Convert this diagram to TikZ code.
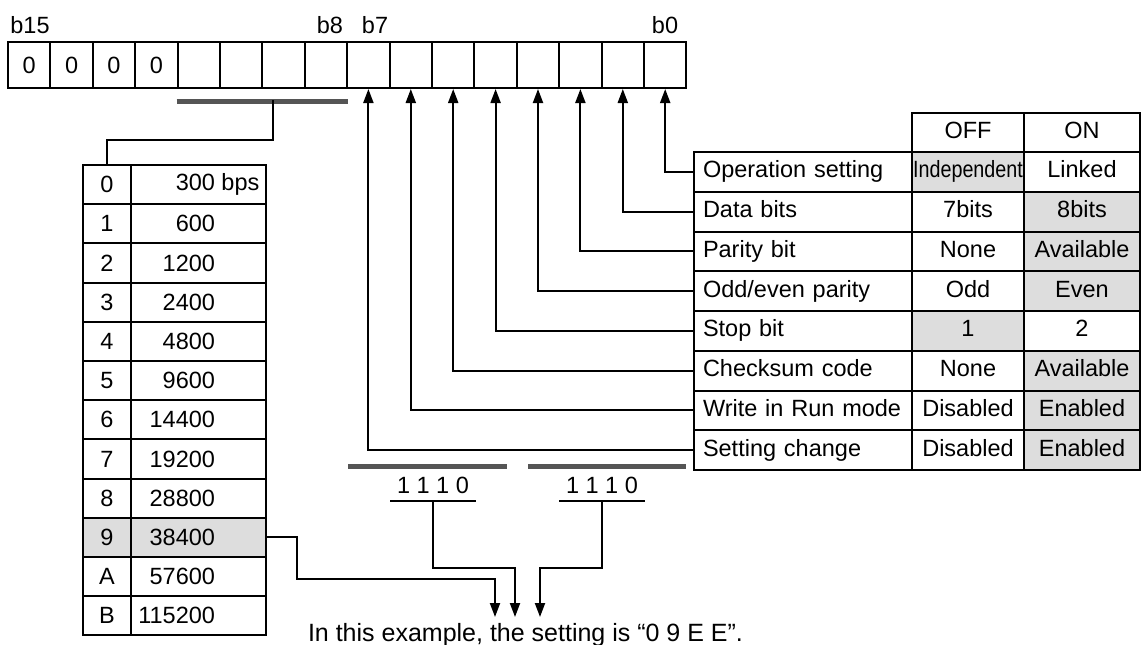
\documentclass[tikz,border=0pt]{standalone}
\usepackage{fontspec}
\usepackage{graphicx}
\setmainfont{Liberation Sans}
\usetikzlibrary{arrows.meta,positioning}
\definecolor{cellgray}{HTML}{DDDDDD}
\definecolor{bargray}{HTML}{555555}
\newcommand{\rate}[1]{\makebox[135pt][l]{\makebox[84pt][r]{#1}}}
\newcommand{\narrow}[1]{\scalebox{0.84}[1]{#1}}

\begin{document}
\begin{tikzpicture}[x=1pt,y=-1pt,line width=2pt,
    >={Triangle[length=14pt,width=10pt]},
    every node/.style={font=\fontsize{23.5}{28}\selectfont,inner sep=0pt},
    cell/.style={draw,minimum height=46pt,minimum width=42.4pt},
    code/.style={draw,minimum height=39.2pt,minimum width=48pt},
    speed/.style={draw,minimum height=39.2pt,minimum width=135pt},
    item/.style={draw,minimum height=39.75pt,text width=200pt,inner xsep=9pt,
      align=left,text height=17pt,text depth=5pt},
    offcell/.style={draw,minimum height=39.75pt,minimum width=112pt,
      text height=17pt,text depth=5pt},
    oncell/.style={draw,minimum height=39.75pt,minimum width=116pt,
      text height=17pt,text depth=5pt},
    nib/.style={minimum height=30pt,inner xsep=6pt},
    bar/.style={draw=bargray,line width=5pt}]
  \useasboundingbox (0,0) rectangle (1141,645);

  \foreach \b in {15,14,13,12}
    \node[cell] (bit-\b) at ({29.2+42.4*(15-\b)},65) {0};
  \foreach \b in {11,...,0}
    \node[cell] (bit-\b) at ({29.2+42.4*(15-\b)},65) {};
  \node (lbl-15) at (30,25)  {b15};
  \node (lbl-8)  at (330,25) {b8};
  \node (lbl-7)  at (375,25) {b7};
  \node (lbl-0)  at (665,25) {b0};

  \draw[bar] ([yshift=-12pt]bit-11.south west) -- ([yshift=-12pt]bit-8.south east);
  \coordinate (tap-hi) at (273,100);

  \foreach \j/\c/\r/\f in {0/0/{300\rlap{\ bps}}/none,1/1/600/none,2/2/1200/none,
      3/3/2400/none,4/4/4800/none,5/5/9600/none,6/6/14400/none,7/7/19200/none,
      8/8/28800/none,9/9/38400/cellgray,10/A/57600/none,11/B/115200/none}{
    \node[code,fill=\f]  (code-\j) at (107,184.6+39.2*\j) {\c};
    \node[speed,fill=\f] (speed-\j) at (198.5,184.6+39.2*\j) {\rate{\r}};
  }
  \draw (tap-hi) -- ++(0,40) -| (code-0.north);

  \node[offcell] (head-off) at (968,132.5) {OFF};
  \node[oncell]  (head-on)  at (1082,132.5) {ON};
  \foreach \i/\t/\o/\n/\fo/\fn in {
      1/Operation setting/{\narrow{Independent}}/Linked/cellgray/none,
      2/Data bits/7bits/8bits/none/cellgray,
      3/Parity bit/None/Available/none/cellgray,
      4/Odd\slash even parity/Odd/Even/none/cellgray,
      5/Stop bit/1/2/cellgray/none,
      6/Checksum code/None/Available/none/cellgray,
      7/Write in Run mode/Disabled/Enabled/none/cellgray,
      8/Setting change/Disabled/Enabled/none/cellgray}{
    \node[item] (row-\i) at (803,132.125+39.75*\i) {\t};
    \node[offcell,fill=\fo] (off-\i) at (968,132.125+39.75*\i) {\o};
    \node[oncell,fill=\fn]  (on-\i)  at (1082,132.125+39.75*\i) {\n};
  }
  \foreach \i/\b in {1/0,2/1,3/2,4/3,5/4,6/5,7/6,8/7}
    \draw[->] (row-\i.west) -| (bit-\b.south);

  \draw[bar] (348,466) -- (507,466);
  \draw[bar] (528,466) -- (686,466);
  \node[nib] (nib-hi) at (433,485) {1 1 1 0};
  \node[nib] (nib-lo) at (602,485) {1 1 1 0};
  \draw (nib-hi.south west) -- (nib-hi.south east);
  \draw (nib-lo.south west) -- (nib-lo.south east);

  \coordinate (to-1) at (495,617);
  \coordinate (to-2) at (515,617);
  \coordinate (to-3) at (540,617);
  \node[anchor=west,font=\fontsize{25}{30}\selectfont] (result) at (307,635)
    {In this example, the setting is “0 9 E E”.};

  \draw[->] (speed-9.east) -| ++(30,42) -| (to-1);
  \draw[->] (nib-hi.south) -- ++(0,67) -| (to-2);
  \draw[->] (nib-lo.south) -- ++(0,67) -| (to-3);
\end{tikzpicture}
\end{document}
